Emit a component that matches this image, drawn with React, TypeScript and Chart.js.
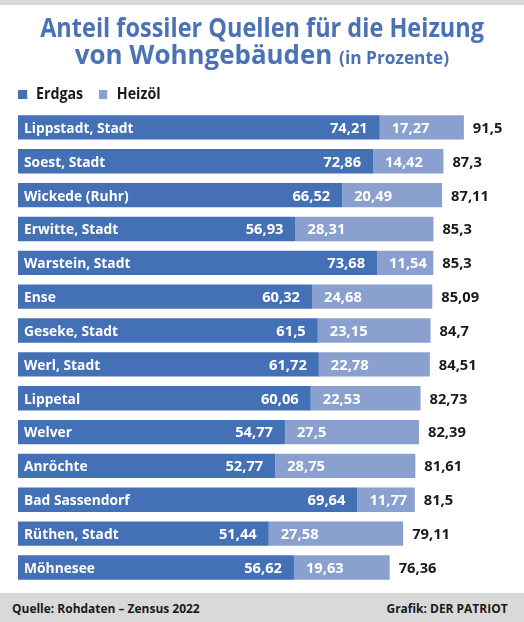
import React, { useEffect, useRef } from "react";
import { Chart, registerables } from "chart.js";

Chart.register(...registerables);

const categories = [
  "Lippstadt, Stadt",
  "Soest, Stadt",
  "Wickede (Ruhr)",
  "Erwitte, Stadt",
  "Warstein, Stadt",
  "Ense",
  "Geseke, Stadt",
  "Werl, Stadt",
  "Lippetal",
  "Welver",
  "Anröchte",
  "Bad Sassendorf",
  "Rüthen, Stadt",
  "Möhnesee",
];
const erdgas = [74.21, 72.86, 66.52, 56.93, 73.68, 60.32, 61.5, 61.72, 60.06, 54.77, 52.77, 69.64, 51.44, 56.62];
const heizoel = [17.27, 14.42, 20.49, 28.31, 11.54, 24.68, 23.15, 22.78, 22.53, 27.5, 28.75, 11.77, 27.58, 19.63];
const totals = [91.5, 87.3, 87.11, 85.3, 85.3, 85.09, 84.7, 84.51, 82.73, 82.39, 81.61, 81.5, 79.11, 76.36];
const seriesNames = ["Erdgas", "Heizöl"];

const COL_GAS = "#4470b6";
const COL_OIL = "#8aa0cf";
const COL_TITLE = "#4a72b5";
const COL_TEXT = "#1a1a1a";
const COL_GRAY = "#d9d9d9";
const FONT = "'Open Sans', 'Noto Sans', sans-serif";
const SX = 0.92;
const SX_NUM = 0.98;

const fmt = (v: number) => String(v).replace(".", ",");

function drawText(ctx: CanvasRenderingContext2D, text: string, x: number, y: number, align: CanvasTextAlign, color: string, s: number) {
  ctx.save();
  ctx.font = `bold 15px ${FONT}`;
  ctx.fillStyle = color;
  ctx.textBaseline = "alphabetic";
  ctx.textAlign = align;
  ctx.translate(x, y);
  ctx.scale(s, 1);
  ctx.fillText(text, 0, 0);
  ctx.restore();
}

const labelPlugin = {
  id: "barLabels",
  afterDatasetsDraw(chart: any) {
    const ctx = chart.ctx as CanvasRenderingContext2D;
    const m0 = chart.getDatasetMeta(0);
    const m1 = chart.getDatasetMeta(1);
    categories.forEach((cat, i) => {
      const b0 = m0.data[i] as any;
      const b1 = m1.data[i] as any;
      const yb = b0.y + 5.4;
      drawText(ctx, cat, b0.base + 6, yb, "left", "#ffffff", SX);
      drawText(ctx, fmt(erdgas[i]), b0.x - 12, yb, "right", "#ffffff", SX_NUM);
      drawText(ctx, fmt(heizoel[i]), b1.base + 12, yb, "left", "#ffffff", SX_NUM);
      drawText(ctx, fmt(totals[i]), b1.x + 9, yb, "left", COL_TEXT, SX_NUM);
    });
  },
};

function Scaled({ children, origin, s = SX }: { children: React.ReactNode; origin: string; s?: number }) {
  return (
    <span style={{ display: "inline-block", transform: `scaleX(${s})`, transformOrigin: origin, whiteSpace: "nowrap" }}>
      {children}
    </span>
  );
}

export default function App() {
  const ref = useRef<HTMLCanvasElement>(null);
  useEffect(() => {
    const chart = new Chart(ref.current!, {
      type: "bar",
      data: {
        labels: categories,
        datasets: [
          { label: seriesNames[0], data: erdgas, backgroundColor: COL_GAS, borderWidth: 0 },
          { label: seriesNames[1], data: heizoel, backgroundColor: COL_OIL, borderWidth: 0 },
        ],
      },
      options: {
        indexAxis: "y",
        animation: false,
        responsive: false,
        devicePixelRatio: 1,
        layout: { padding: { left: 18, right: 18.6, top: 110.5, bottom: 37.6 } },
        datasets: { bar: { barPercentage: 0.72, categoryPercentage: 1 } },
        scales: {
          x: { stacked: true, min: 0, max: 100, display: false },
          y: { stacked: true, display: false },
        },
        plugins: { legend: { display: false }, tooltip: { enabled: false }, title: { display: false } },
      },
      plugins: [labelPlugin],
    });
    return () => chart.destroy();
  }, []);

  const box = (c: string) => (
    <span style={{ display: "inline-block", width: 9.5, height: 8.5, background: c, verticalAlign: "baseline" }} />
  );

  return (
    <div style={{ position: "absolute", left: 0, top: 0, width: 524, height: 622, background: "#fff", overflow: "hidden", fontFamily: FONT, fontWeight: 700 }}>
      <div style={{ position: "absolute", left: 0, top: 0, width: 524, height: 5, background: COL_GRAY }} />
      <canvas ref={ref} width={524} height={622} style={{ position: "absolute", left: 0, top: 0 }} />
      <div style={{ position: "absolute", left: 0, top: 12.5, width: 524, textAlign: "center", color: COL_TITLE, fontSize: 27, lineHeight: "27px" }}>
        <Scaled origin="center" s={0.87}>Anteil fossiler Quellen für die Heizung</Scaled>
        <br />
        <Scaled origin="center" s={0.96}>
          von Wohngebäuden <span style={{ fontSize: 18 }}>(in Prozente)</span>
        </Scaled>
      </div>
      <div style={{ position: "absolute", left: 18, top: 82.7, fontSize: 15.5, lineHeight: "20px", color: COL_TEXT }}>
        <Scaled origin="left">
          {box(COL_GAS)}
          <span style={{ marginLeft: 10 }}>{seriesNames[0]}</span>
          <span style={{ marginLeft: 17 }}>{box(COL_OIL)}</span>
          <span style={{ marginLeft: 10 }}>{seriesNames[1]}</span>
        </Scaled>
      </div>
      <div style={{ position: "absolute", left: 0, top: 593, width: 524, height: 29, background: COL_GRAY }} />
      <div style={{ position: "absolute", left: 12, top: 599.6, fontSize: 13, lineHeight: "16px", color: COL_TEXT }}>
        <Scaled origin="left">Quelle: Rohdaten – Zensus 2022</Scaled>
      </div>
      <div style={{ position: "absolute", right: 16, top: 599.6, fontSize: 13, lineHeight: "16px", color: COL_TEXT, textAlign: "right" }}>
        <Scaled origin="right">Grafik: DER PATRIOT</Scaled>
      </div>
    </div>
  );
}
